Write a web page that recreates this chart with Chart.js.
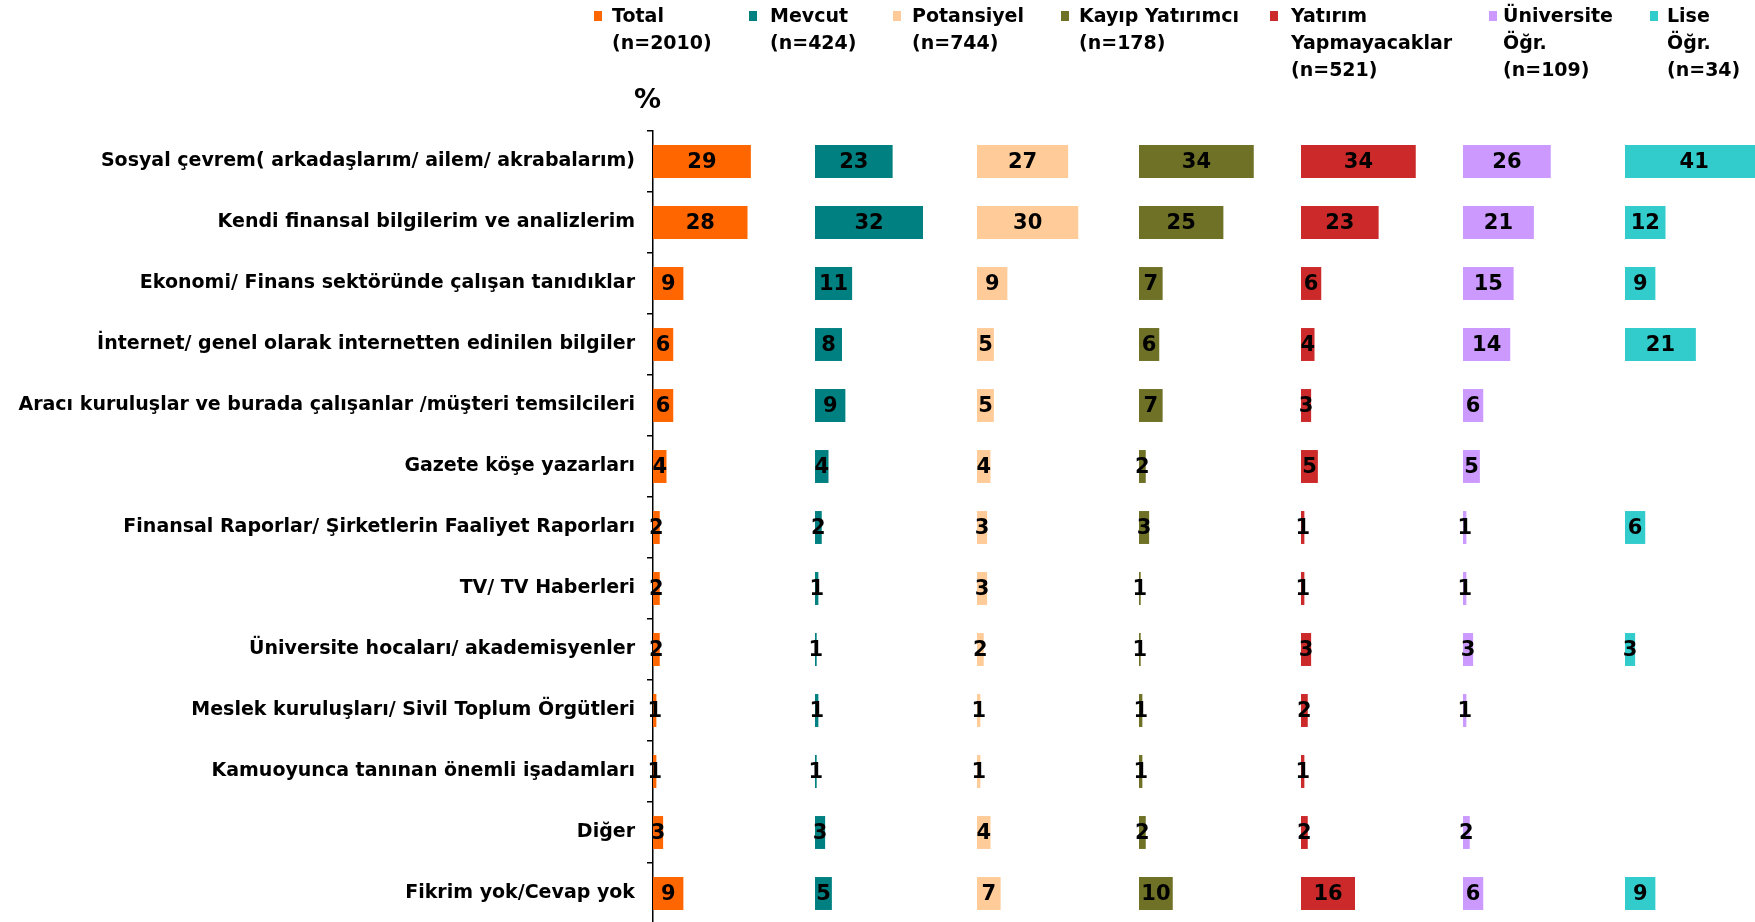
<!DOCTYPE html>
<html>
<head>
<meta charset="utf-8">
<script src="https://cdn.jsdelivr.net/npm/chart.js@4.4.0/dist/chart.umd.min.js"></script>
<style>
  html, body { margin: 0; padding: 0; width: 1755px; height: 922px; overflow: hidden; background: #fff; }
  #wrap { position: relative; width: 1755px; height: 922px; overflow: hidden; }
  #chart { position: absolute; left: 0; top: 0; }
  .legend-item { position: absolute; top: 2px; font: bold 19px "DejaVu Sans", sans-serif; line-height: 27px; color: #000; white-space: pre; }
  .marker { position: absolute; top: 11px; width: 8px; height: 10px; }
  #pct { position: absolute; left: 634px; top: 85px; font: bold 27px "DejaVu Sans", sans-serif; line-height: 28px; }
</style>
</head>
<body>
<div id="wrap">
  <canvas id="chart" width="1787" height="924"></canvas>
  <div id="legend"></div>
  <div id="pct">%</div>
</div>
<script>
const categories = [
  'Sosyal çevrem( arkadaşlarım/ ailem/ akrabalarım)',
  'Kendi finansal bilgilerim ve analizlerim',
  'Ekonomi/ Finans sektöründe çalışan tanıdıklar',
  'İnternet/ genel olarak internetten edinilen bilgiler',
  'Aracı kuruluşlar ve burada çalışanlar /müşteri temsilcileri',
  'Gazete köşe yazarları',
  'Finansal Raporlar/ Şirketlerin Faaliyet Raporları',
  'TV/ TV Haberleri',
  'Üniversite hocaları/ akademisyenler',
  'Meslek kuruluşları/ Sivil Toplum Örgütleri',
  'Kamuoyunca tanınan önemli işadamları',
  'Diğer',
  'Fikrim yok/Cevap yok'
];

// legend text for each group (lines split with \n)
const groupNames = [
  'Total\n(n=2010)',
  'Mevcut\n(n=424)',
  'Potansiyel\n(n=744)',
  'Kayıp Yatırımcı\n(n=178)',
  'Yatırım\nYapmayacaklar\n(n=521)',
  'Üniversite\nÖğr.\n(n=109)',
  'Lise\nÖğr.\n(n=34)'
];

const total = [29, 28, 9, 6, 6, 4, 2, 2, 2, 1, 1, 3, 9];
const mevcut = [23, 32, 11, 8, 9, 4, 2, 1, 0.5, 1, 0.5, 3, 5];
const potansiyel = [27, 30, 9, 5, 5, 4, 3, 3, 2, 1, 1, 4, 7];
const kayip = [34, 25, 7, 6, 7, 2, 3, 0.5, 0.5, 1, 1, 2, 10];
const yatirimYok = [34, 23, 6, 4, 3, 5, 1, 1, 3, 2, 1, 2, 16];
const universite = [26, 21, 15, 14, 6, 5, 1, 1, 3, 1, null, 2, 6];
const lise = [41, 12, 9, 21, null, null, 6, null, 3, null, null, null, 9];

const series = [total, mevcut, potansiyel, kayip, yatirimYok, universite, lise];
const colors = ['#FF6600', '#008080', '#FFCC99', '#6E7126', '#CC2A2A', '#CC99FF', '#33CCCC'];

// where the legend entries sit (marker left, text left)
const legendMarkerX = [594, 749, 893, 1061, 1270, 1489, 1650];
const legendTextX = [612, 770, 912, 1079, 1291, 1503, 1667];

const legendBox = document.getElementById('legend');
groupNames.forEach((name, i) => {
  const m = document.createElement('div');
  m.className = 'marker';
  m.style.left = legendMarkerX[i] + 'px';
  m.style.background = colors[i];
  legendBox.appendChild(m);
  const t = document.createElement('div');
  t.className = 'legend-item';
  t.style.left = legendTextX[i] + 'px';
  t.textContent = name;
  legendBox.appendChild(t);
});

// one x scale per group, laid side by side
const scales = {
  y: {
    type: 'category',
    position: 'left',
    offset: true,
    grid: { display: true, drawOnChartArea: false, drawTicks: true, tickLength: 6, offset: true, color: '#000', lineWidth: 1.5 },
    border: { display: true, color: '#000', width: 1.5 },
    ticks: {
      color: '#000',
      autoSkip: false,
      padding: 12,
      font: { family: '"DejaVu Sans"', size: 19, weight: 'bold' }
    },
    afterFit: (scale) => {
      scale.width = 653;
      // plot runs down to the bottom edge, no room kept for half labels
      scale.paddingTop = 0;
      scale.paddingBottom = 0;
    }
  }
};
series.forEach((s, i) => {
  scales['x' + i] = {
    type: 'linear',
    position: 'bottom',
    stack: 'groups',
    stackWeight: 1,
    min: 0,
    max: 48,
    grid: { display: false },
    border: { display: false },
    ticks: { display: false },
    afterFit: (scale) => { scale.height = 0; }
  };
});

const datasets = series.map((s, i) => ({
  label: groupNames[i].replace(/\n/g, ' '),
  data: s,
  xAxisID: 'x' + i,
  yAxisID: 'y',
  backgroundColor: colors[i],
  grouped: false,
  barPercentage: 0.9,
  categoryPercentage: 0.6
}));

const valueLabels = {
  id: 'valueLabels',
  afterDatasetsDraw(chart) {
    const ctx = chart.ctx;
    ctx.save();
    ctx.font = 'bold 21px "DejaVu Sans"';
    ctx.fillStyle = '#000';
    ctx.textAlign = 'center';
    ctx.textBaseline = 'middle';
    chart.data.datasets.forEach((ds, i) => {
      chart.getDatasetMeta(i).data.forEach((bar, j) => {
        const v = ds.data[j];
        if (v === null) return;
        ctx.fillText(Math.round(v), (bar.x + bar.base) / 2, bar.y + 1);
      });
    });
    ctx.restore();
  }
};

new Chart(document.getElementById('chart'), {
  type: 'bar',
  data: { labels: categories, datasets },
  options: {
    indexAxis: 'y',
    responsive: false,
    animation: false,
    layout: { padding: { top: 131, left: 0, right: 0, bottom: 0 } },
    scales,
    plugins: {
      legend: { display: false },
      tooltip: { enabled: false }
    }
  },
  plugins: [valueLabels]
});
</script>
</body>
</html>
